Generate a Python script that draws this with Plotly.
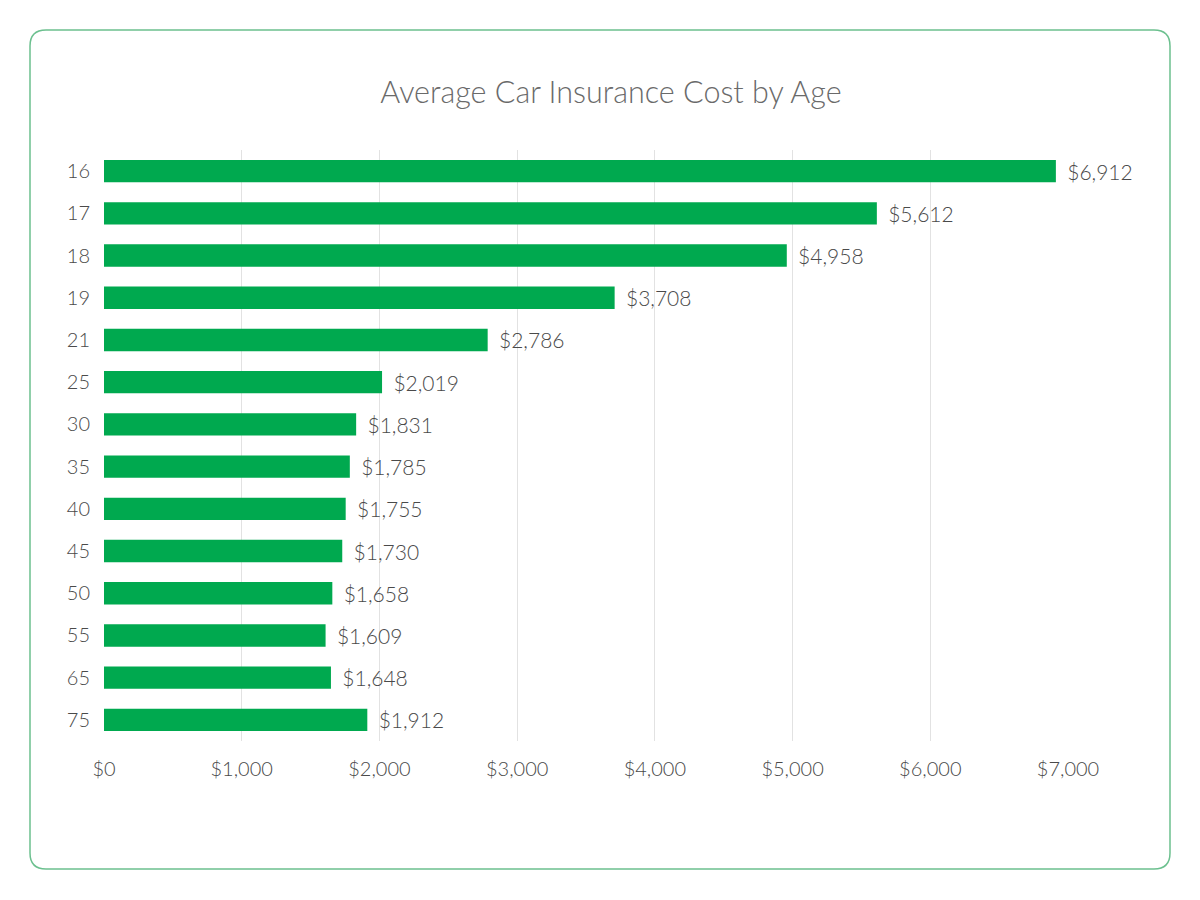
import plotly.graph_objects as go

ages = ["16", "17", "18", "19", "21", "25", "30", "35", "40", "45", "50", "55", "65", "75"]
costs = [6912, 5612, 4958, 3708, 2786, 2019, 1831, 1785, 1755, 1730, 1658, 1609, 1648, 1912]
x_ticks = [0, 1000, 2000, 3000, 4000, 5000, 6000, 7000]
x_tick_labels = ["$0", "$1,000", "$2,000", "$3,000", "$4,000", "$5,000", "$6,000", "$7,000"]

W, H = 1200, 900
OFF = 8  # page body offset
ml, mt = 104 - OFF, 150 - OFF
pw, ph = 964, 591
mr = W - ml - pw
mb = H - mt - ph

fig = go.Figure(go.Bar(
    x=costs, y=ages, orientation="h",
    marker=dict(color="#00A94F", line=dict(width=0)),
    text=["\u00a0\u2009$" + format(v, ",") for v in costs],
    textposition="outside",
    constraintext="none",
    textfont=dict(family="Lato", size=21, color="#4A4A4A", weight=300),
    cliponaxis=False,
    hoverinfo="skip",
))

def px_x(x):
    return (x - OFF - ml) / pw
def px_y(y):
    return (H - mb - (y - OFF)) / ph

x0, x1, y0, y1, r = 30, 1170, 30, 869, 16
path = (
    f"M {px_x(x0 + r)},{px_y(y0)} L {px_x(x1 - r)},{px_y(y0)} "
    f"Q {px_x(x1)},{px_y(y0)} {px_x(x1)},{px_y(y0 + r)} "
    f"L {px_x(x1)},{px_y(y1 - r)} "
    f"Q {px_x(x1)},{px_y(y1)} {px_x(x1 - r)},{px_y(y1)} "
    f"L {px_x(x0 + r)},{px_y(y1)} "
    f"Q {px_x(x0)},{px_y(y1)} {px_x(x0)},{px_y(y1 - r)} "
    f"L {px_x(x0)},{px_y(y0 + r)} "
    f"Q {px_x(x0)},{px_y(y0)} {px_x(x0 + r)},{px_y(y0)} Z"
)

fig.update_layout(
    width=W, height=H,
    margin=dict(l=ml, r=mr, t=mt, b=mb),
    paper_bgcolor="white", plot_bgcolor="white",
    bargap=0.47,
    showlegend=False,
    title=dict(
        text="Average Car Insurance Cost by Age",
        font=dict(family="Lato", size=30.5, color="#6A6A6A", weight=300),
        xref="container", x=(611 - OFF) / W, xanchor="center",
        yref="container", y=1 - (92 - OFF) / H, yanchor="middle",
    ),
    xaxis=dict(
        range=[0, 7000],
        tickvals=x_ticks, ticktext=x_tick_labels,
        showgrid=True, gridcolor="#E2E2E2", gridwidth=1,
        zeroline=False, showline=False,
        tickfont=dict(family="Lato", size=20, color="#4A4A4A", weight=300),
        ticks="", ticklabelstandoff=14,
        fixedrange=True,
    ),
    yaxis=dict(
        autorange="reversed",
        showgrid=False, zeroline=False, showline=False,
        tickfont=dict(family="Lato", size=20, color="#4A4A4A", weight=300),
        ticks="", ticklabelstandoff=13,
    ),
    shapes=[dict(
        type="path", path=path, xref="paper", yref="paper",
        line=dict(color="#6CC08F", width=1.5), fillcolor="rgba(0,0,0,0)",
        layer="below",
    )],
)

fig.write_html("out.html")
